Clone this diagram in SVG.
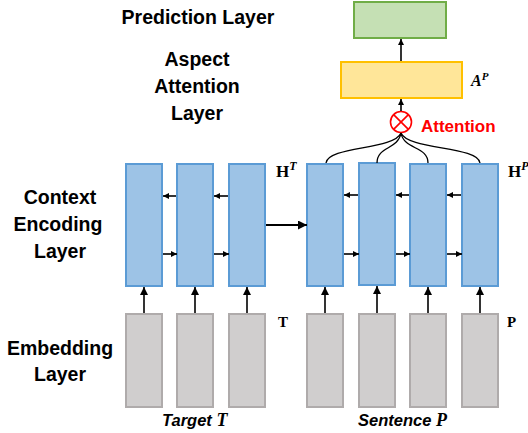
<svg xmlns="http://www.w3.org/2000/svg" width="528" height="433" viewBox="0 0 528 433">
<style>
.lbl{font-family:"Liberation Sans",Arial,sans-serif;font-weight:bold;font-size:19.5px;fill:#000;text-anchor:middle}
.blue{fill:#9DC3E6;stroke:#5B9BD5;stroke-width:2}
.gray{fill:#D0CECE;stroke:#AFABAB;stroke-width:2}
.ln{stroke:#000;stroke-width:1.6;fill:none}
.cv{stroke:#000;stroke-width:1.3;fill:none}
.math{font-family:"Liberation Serif","Times New Roman",serif;font-weight:bold;fill:#000}
</style>
<defs>
<marker id="ah" viewBox="0 0 10 10" refX="10" refY="5" markerUnits="userSpaceOnUse" markerWidth="8" markerHeight="8" orient="auto"><path d="M0,0 L10,5 L0,10 z" fill="#000"/></marker>
<marker id="ahs" viewBox="0 0 10 10" refX="10" refY="5" markerUnits="userSpaceOnUse" markerWidth="6" markerHeight="6" orient="auto"><path d="M0,0 L10,5 L0,10 z" fill="#000"/></marker>
<marker id="ahb" viewBox="0 0 10 10" refX="10" refY="5" markerUnits="userSpaceOnUse" markerWidth="10" markerHeight="9" orient="auto"><path d="M0,0 L10,5 L0,10 z" fill="#000"/></marker>
</defs>
<rect width="528" height="433" fill="#fff"/>

<g id="layer-labels">
<text class="lbl" x="198" y="24">Prediction Layer</text>
<text class="lbl" x="197" y="66">Aspect</text>
<text class="lbl" x="197" y="93">Attention</text>
<text class="lbl" x="197" y="120">Layer</text>
<text class="lbl" x="60" y="204">Context</text>
<text class="lbl" x="58" y="231">Encoding</text>
<text class="lbl" x="60" y="258">Layer</text>
<text class="lbl" x="60" y="355">Embedding</text>
<text class="lbl" x="60" y="381">Layer</text>
</g>

<g id="prediction"><rect x="354" y="2" width="92" height="36" fill="#C5E0B4" stroke="#70AD47" stroke-width="2"/></g>
<g id="aspect-attention"><rect x="341" y="62" width="121" height="36" fill="#FFE699" stroke="#FFC000" stroke-width="2"/>
<text class="math" x="471" y="86" font-size="16" font-style="italic">A<tspan font-size="11" dy="-6">P</tspan></text></g>
<g id="attention-op">
<circle cx="401" cy="122" r="10.5" fill="#fff" stroke="#FF0000" stroke-width="1.6"/>
<path d="M393.6,114.6 L408.4,129.4 M408.4,114.6 L393.6,129.4" stroke="#FF0000" stroke-width="1.6"/>
<text x="421" y="132" font-family="Liberation Sans,Arial,sans-serif" font-weight="bold" font-size="17" fill="#FF0000">Attention</text>
</g>

<g id="context-target">
<rect class="blue" x="126" y="164" width="36" height="122"/>
<rect class="blue" x="177" y="164" width="36" height="122"/>
<rect class="blue" x="229" y="164" width="36" height="122"/>
<text class="math" x="276" y="177" font-size="17">H<tspan font-size="12" font-style="italic" dy="-7">T</tspan></text>
</g>
<g id="context-sentence">
<rect class="blue" x="307" y="164" width="36" height="122"/>
<rect class="blue" x="359" y="163" width="36" height="122"/>
<rect class="blue" x="410" y="164" width="36" height="122"/>
<rect class="blue" x="462" y="164" width="36" height="122"/>
<text class="math" x="508" y="177" font-size="17">H<tspan font-size="12" font-style="italic" dy="-7">P</tspan></text>
</g>
<g id="embed-target">
<rect class="gray" x="126" y="314" width="36" height="93"/>
<rect class="gray" x="177" y="314" width="36" height="93"/>
<rect class="gray" x="229" y="314" width="36" height="93"/>
<text class="math" x="278" y="327" font-size="15">T</text>
<text x="162" y="426" font-family="Liberation Sans,Arial,sans-serif" font-weight="bold" font-style="italic" font-size="16.5">Target <tspan font-family="Liberation Serif,Times New Roman,serif" font-size="18">T</tspan></text>
</g>
<g id="embed-sentence">
<rect class="gray" x="307" y="314" width="36" height="93"/>
<rect class="gray" x="359" y="314" width="36" height="93"/>
<rect class="gray" x="410" y="314" width="36" height="93"/>
<rect class="gray" x="462" y="314" width="36" height="93"/>
<text class="math" x="507" y="327" font-size="15">P</text>
<text x="358" y="426" font-family="Liberation Sans,Arial,sans-serif" font-weight="bold" font-style="italic" font-size="16.5">Sentence <tspan font-family="Liberation Serif,Times New Roman,serif" font-size="18">P</tspan></text>
</g>

<g id="connectors">
<line class="ln" x1="401" y1="61" x2="401" y2="39" marker-end="url(#ahs)"/>
<line class="ln" x1="401" y1="111" x2="401" y2="99" marker-end="url(#ahs)"/>
<path class="cv" d="M326,163 C328,146 394,150 401,133"/>
<path class="cv" d="M377,163 C377,146 398,150 401,133"/>
<path class="cv" d="M428,163 C428,146 404,150 401,133"/>
<path class="cv" d="M480,163 C478,146 408,150 401,133"/>
<line class="ln" x1="144" y1="313" x2="144" y2="287" marker-end="url(#ah)"/>
<line class="ln" x1="195" y1="313" x2="195" y2="287" marker-end="url(#ah)"/>
<line class="ln" x1="247" y1="313" x2="247" y2="287" marker-end="url(#ah)"/>
<line class="ln" x1="325" y1="313" x2="325" y2="287" marker-end="url(#ah)"/>
<line class="ln" x1="377" y1="313" x2="377" y2="286" marker-end="url(#ah)"/>
<line class="ln" x1="428" y1="313" x2="428" y2="287" marker-end="url(#ah)"/>
<line class="ln" x1="480" y1="313" x2="480" y2="287" marker-end="url(#ah)"/>
<line class="ln" x1="176" y1="196" x2="163" y2="196" marker-end="url(#ahs)"/>
<line class="ln" x1="228" y1="196" x2="214" y2="196" marker-end="url(#ahs)"/>
<line class="ln" x1="163" y1="254" x2="177" y2="254" marker-end="url(#ahs)"/>
<line class="ln" x1="214" y1="254" x2="229" y2="254" marker-end="url(#ahs)"/>
<line class="ln" x1="358" y1="195" x2="344" y2="195" marker-end="url(#ahs)"/>
<line class="ln" x1="409" y1="195" x2="396" y2="195" marker-end="url(#ahs)"/>
<line class="ln" x1="461" y1="195" x2="447" y2="195" marker-end="url(#ahs)"/>
<line class="ln" x1="344" y1="254" x2="359" y2="254" marker-end="url(#ahs)"/>
<line class="ln" x1="396" y1="254" x2="410" y2="254" marker-end="url(#ahs)"/>
<line class="ln" x1="447" y1="254" x2="462" y2="254" marker-end="url(#ahs)"/>
<line x1="266" y1="225" x2="307" y2="225" stroke="#000" stroke-width="2" marker-end="url(#ahb)"/>
</g>
</svg>
